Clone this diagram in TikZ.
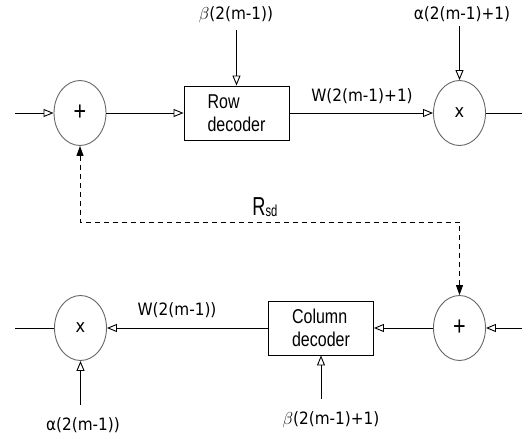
\documentclass[tikz,border=0pt]{standalone}
\usepackage{fontspec}
\usepackage{tikz}
\usetikzlibrary{shapes.geometric,arrows.meta,calc}

\newfontfamily\boxfont[FakeStretch=0.8]{Liberation Sans}
\newfontfamily\lblfont[FakeStretch=0.9]{DejaVu Sans}
\newfontfamily\rsdfont[FakeStretch=0.7]{Liberation Sans}

\tikzset{
  sumnode/.style={ellipse, draw=black!60, line width=0.9pt, minimum width=52pt, minimum height=65pt, inner sep=0pt},
  decbox/.style={draw, line width=0.9pt, minimum width=105pt, minimum height=54pt, align=left, inner sep=0pt,
    font=\boxfont\fontsize{20}{23}\selectfont},
  lbl/.style={anchor=base, inner sep=1pt, font=\lblfont\fontsize{17}{17}\selectfont},
  fbline/.style={dash pattern=on 5pt off 4pt, {Triangle[length=10pt,width=7pt]}-{Triangle[length=10pt,width=7pt]}}
}

\begin{document}
\begin{tikzpicture}[x=1pt, y=-1pt, line width=0.9pt, >={Triangle[open,length=10pt,width=8pt]}]
  \useasboundingbox (0,0) rectangle (522,440);

  % Upper path: adder, row decoder, multiplier
  \node[sumnode] (add1) at (80,113) {\boxfont\fontsize{27}{27}\selectfont +};
  \node[decbox] (rowdec) at (236.5,113) {Row\\decoder};
  \node[sumnode] (mul1) at (459.5,113) {\lblfont\fontsize{18}{18}\selectfont x};
  \coordinate (in1) at (15,113);
  \coordinate (out1) at (522,113);
  \draw[->] (in1) -- (add1);
  \draw[->] (add1) -- (rowdec);
  \draw[->] (rowdec) -- (mul1);
  \draw (mul1) -- (out1);
  \node[lbl] (w1) at (362,101) {W(2(m-1)+1)};

  % Upper side inputs
  \node[lbl] (beta1) at (236,19) {$\beta$(2(m-1))};
  \node[lbl] (alpha1) at (462,19) {α(2(m-1)+1)};
  \draw[->, shorten <=6pt] (rowdec.north |- beta1.south) -- (rowdec.north);
  \draw[->, shorten <=3pt] (mul1.north |- alpha1.south) -- (mul1.north);

  % Lower path: adder, column decoder, multiplier
  \node[sumnode] (add2) at (459.5,328) {\boxfont\fontsize{27}{27}\selectfont +};
  \node[decbox] (coldec) at (321,328) {Column\\decoder};
  \node[sumnode] (mul2) at (80.5,328) {\lblfont\fontsize{18}{18}\selectfont x};
  \coordinate (in2) at (522,328);
  \coordinate (out2) at (15,328);
  \draw[->] (in2) -- (add2);
  \draw[->] (add2) -- (coldec);
  \draw[->] (coldec) -- (mul2);
  \draw (mul2) -- (out2);
  \node[lbl] (w2) at (177,315) {W(2(m-1))};

  % Lower side inputs
  \node[lbl] (alpha2) at (83,430) {α(2(m-1))};
  \node[lbl] (beta2) at (331,424) {$\beta$(2(m-1)+1)};
  \draw[->, shorten <=11pt] (mul2.south |- alpha2.north) -- (mul2.south);
  \draw[->, shorten <=11pt] (coldec.south |- beta2.north) -- (coldec.south);

  % Feedback R_sd
  \coordinate (fbl) at (80,222);
  \draw[fbline] (add1.south) -- (fbl) -| (add2.north);
  \node[anchor=base west, inner sep=0pt, font=\rsdfont\fontsize{26}{26}\selectfont] (rsd) at (252,215)
    {R\raisebox{-1pt}{\fontsize{16}{16}\selectfont sd}};
\end{tikzpicture}
\end{document}
